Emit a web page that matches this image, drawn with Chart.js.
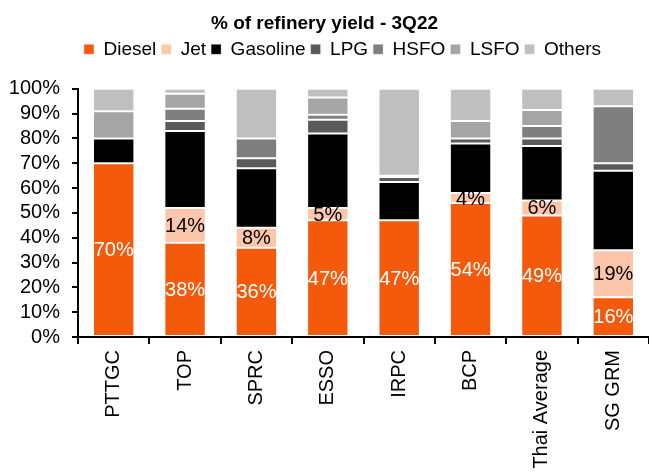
<!DOCTYPE html>
<html><head><meta charset="utf-8">
<script src="https://cdn.jsdelivr.net/npm/chart.js@4/dist/chart.umd.min.js"></script>
<style>html,body{margin:0;padding:0;background:#fff}#w{width:649px;height:475px}</style>
</head><body><div id="w"><canvas id="c"></canvas></div>
<script>
const categories = ["PTTGC","TOP","SPRC","ESSO","IRPC","BCP","Thai Average","SG GRM"];
const diesel   = [70, 38, 36, 47, 47, 54, 49, 16];
const jet      = [0, 14, 8, 5, 0, 4, 6, 19];
const gasoline = [10, 31, 24, 30, 15.5, 20, 22, 32];
const lpg      = [0, 4, 4, 5.5, 2, 2, 3, 3];
const hsfo     = [0, 5, 8, 2, 0.5, 0, 5, 23];
const lsfo     = [11, 6, 0, 7, 0, 7, 6.5, 0];
const others   = [9, 2, 20, 3.5, 35, 13, 8.5, 7];
const yTicks = ["0%","10%","20%","30%","40%","50%","60%","70%","80%","90%","100%"];

const FONT = "'Liberation Sans', Arial, sans-serif";
const mk = (label, data, color) => ({label, data, backgroundColor: color, borderColor: 'rgba(255,255,255,0.35)', borderWidth: 1, borderSkipped: false, barPercentage: 0.58, categoryPercentage: 1});

const labelPlugin = {
  id: 'segLabels',
  afterDatasetsDraw(chart) {
    const ctx = chart.ctx;
    ctx.save();
    ctx.font = "20px " + FONT;
    ctx.textAlign = 'center';
    ctx.textBaseline = 'middle';
    [[0,'#ffffff'],[1,'#000000']].forEach(([di, col]) => {
      const meta = chart.getDatasetMeta(di);
      meta.data.forEach((bar, i) => {
        const v = chart.data.datasets[di].data[i];
        if (!v) return;
        const y = (bar.y + bar.base) / 2;
        ctx.fillStyle = col;
        ctx.fillText(Math.round(v) + '%', bar.x, y + 1);
      });
    });
    ctx.restore();
  }
};

const legendSpace = {
  id: 'legendSpace',
  beforeInit(chart) {
    const fit = chart.legend.fit;
    chart.legend.fit = function () { fit.call(this); this.height += 20; };
  },
  afterLayout(chart) {
    chart.legend.left += 18;
    chart.legend.right += 18;
  }
};

new Chart(document.getElementById('c'), {
  type: 'bar',
  data: {
    labels: categories,
    datasets: [
      mk('Diesel', diesel, '#f55a0c'),
      mk('Jet', jet, '#fdc6aa'),
      mk('Gasoline', gasoline, '#000000'),
      mk('LPG', lpg, '#5a5a5a'),
      mk('HSFO', hsfo, '#7f7f7f'),
      mk('LSFO', lsfo, '#a5a5a5'),
      mk('Others', others, '#bfbfbf')
    ]
  },
  options: {
    responsive: true,
    maintainAspectRatio: false,
    animation: false,
    layout: {padding: {left: 0, right: 0, top: 0, bottom: 0}},
    plugins: {
      title: {display: true, text: '% of refinery yield - 3Q22', color: '#000', font: {family: FONT, size: 19, weight: 'bold'}, padding: {top: 12, bottom: 0}},
      legend: {display: true, labels: {color: '#000', font: {family: FONT, size: 19}, boxWidth: 10, boxHeight: 10, padding: 5}},
      tooltip: {enabled: false}
    },
    scales: {
      x: {
        stacked: true,
        grid: {display: true, drawOnChartArea: false, drawTicks: true, tickLength: 7, color: '#000', lineWidth: 2, offset: true},
        border: {display: true, color: '#000', width: 2},
        ticks: {color: '#000', font: {family: FONT, size: 20}, maxRotation: 90, minRotation: 90, padding: 6, autoSkip: false},
        afterFit(s) { s.height = 138; }
      },
      y: {
        stacked: true,
        min: 0, max: 100,
        grid: {display: true, drawOnChartArea: false, drawTicks: true, tickLength: 6, color: '#000', lineWidth: 2},
        border: {display: true, color: '#000', width: 2},
        ticks: {stepSize: 10, autoSkip: false, color: '#000', font: {family: FONT, size: 20}, padding: 12, callback: (v) => yTicks[Math.round(v / 10)]},
        afterFit(s) { s.width = 78; }
      }
    }
  },
  plugins: [labelPlugin, legendSpace]
});
</script>
</body></html>
